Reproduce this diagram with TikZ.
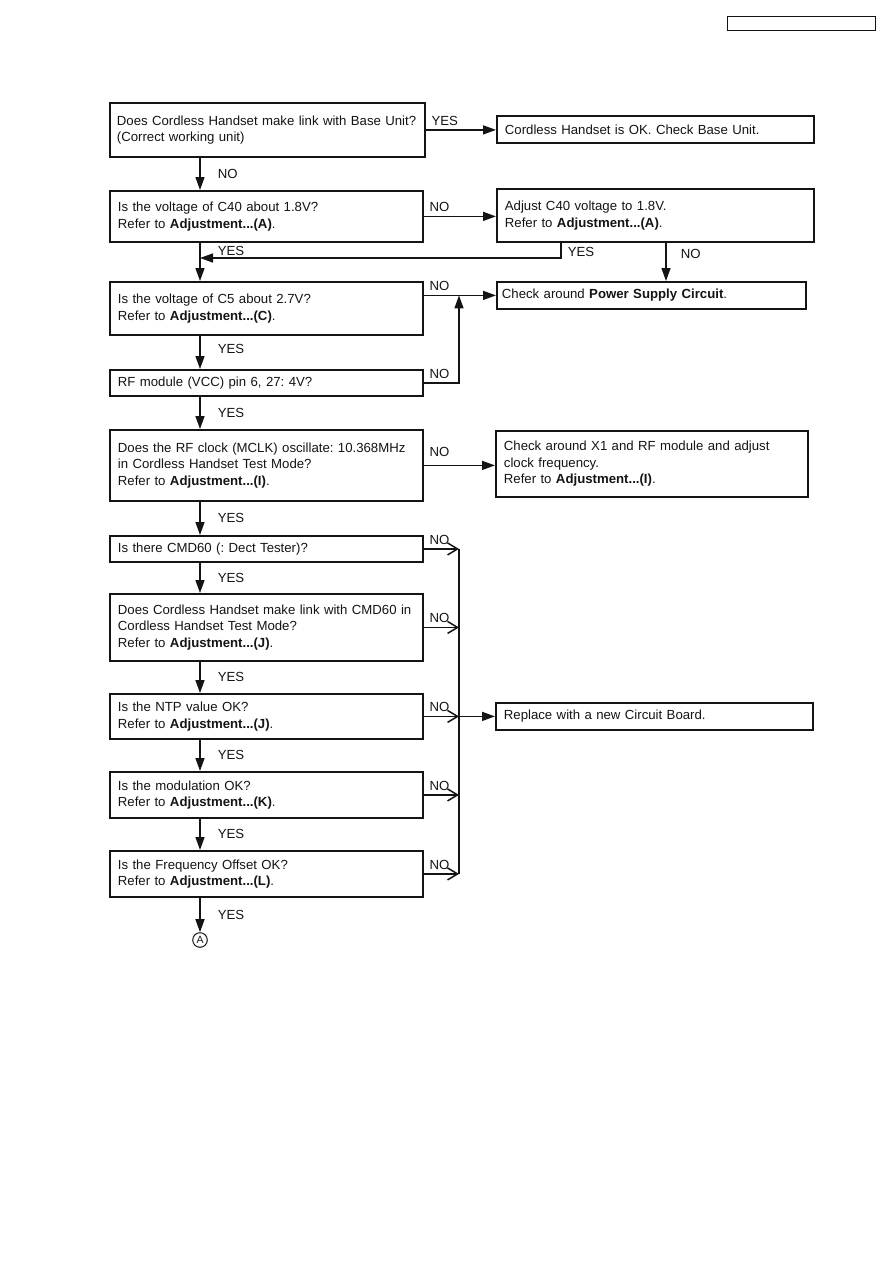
\documentclass[tikz,border=0pt]{standalone}
\usepackage{fontspec}
\setmainfont{Liberation Sans}
\definecolor{inkblack}{RGB}{20,20,20}
\usetikzlibrary{arrows.meta,calc}

\begin{document}
\begin{tikzpicture}[x=1pt, y=-1pt,
    every node/.style={font=\fontsize{13.2pt}{16.5pt}\selectfont\frenchspacing, text=inkblack},
    qbox/.style={draw=inkblack, line width=1.8pt, anchor=north west, align=left, inner xsep=8pt, inner ysep=2pt, minimum width=313pt, text width=297pt},
    abox/.style={draw=inkblack, line width=1.8pt, anchor=north west, align=left, inner xsep=8pt, inner ysep=2pt},
    lab/.style={inner sep=1pt},
    sidelab/.style={lab, anchor=south west, pos=0, xshift=4pt, yshift=3pt},
    arr/.style={draw=inkblack, line width=1.5pt, -{Triangle[length=13pt,width=9pt]}},
    barb/.style={draw=inkblack, line width=1.5pt, -{Straight Barb[length=10pt,width=12pt]}}]
\useasboundingbox (0,0) rectangle (893,1263);

% header box
\node[draw=inkblack, line width=1.2pt, anchor=north west, minimum width=148pt, minimum height=14pt, inner sep=0pt] (docbox) at (727,16) {};

% question column
\node[qbox, inner xsep=7pt, minimum width=315pt, text width=301pt, minimum height=54pt] (qlink) at (109,102) {Does Cordless Handset make link with Base Unit?\\(Correct working unit)};
\node[qbox, minimum height=51pt] (qcforty) at (109,190) {Is the voltage of C40 about 1.8V?\\Refer to \textbf{Adjustment...(A)}.};
\node[qbox, minimum height=53pt] (qcfive) at (109,281) {Is the voltage of C5 about 2.7V?\\Refer to \textbf{Adjustment...(C)}.};
\node[qbox, minimum height=26pt] (qvcc) at (109,369) {RF module (VCC) pin 6, 27: 4V?};
\node[qbox, minimum height=71pt] (qclk) at (109,429) {Does the RF clock (MCLK) oscillate: 10.368MHz\\in Cordless Handset Test Mode?\\Refer to \textbf{Adjustment...(I)}.};
\node[qbox, minimum height=26pt] (qcmd) at (109,535) {Is there CMD60 (: Dect Tester)?};
\node[qbox, minimum height=67pt] (qcmdlink) at (109,593) {Does Cordless Handset make link with CMD60 in\\Cordless Handset Test Mode?\\Refer to \textbf{Adjustment...(J)}.};
\node[qbox, minimum height=45pt] (qntp) at (109,693) {Is the NTP value OK?\\Refer to \textbf{Adjustment...(J)}.};
\node[qbox, minimum height=46pt] (qmod) at (109,771) {Is the modulation OK?\\Refer to \textbf{Adjustment...(K)}.};
\node[qbox, minimum height=46pt] (qfreq) at (109,850) {Is the Frequency Offset OK?\\Refer to \textbf{Adjustment...(L)}.};
\node[circle, draw=inkblack, line width=1pt, inner sep=1.6pt, font=\fontsize{10.5pt}{12pt}\selectfont] (conna) at (200,940) {A};

% action column
\node[abox, minimum width=317pt, text width=301pt, minimum height=27pt] (okbase) at (496,115) {Cordless Handset is OK. Check Base Unit.};
\node[abox, minimum width=317pt, text width=301pt, minimum height=53pt] (adjc) at (496,188) {Adjust C40 voltage to 1.8V.\\Refer to \textbf{Adjustment...(A)}.};
\node[abox, inner xsep=5pt, minimum width=309pt, text width=299pt, minimum height=27pt] (psu) at (496,281) {Check around \textbf{Power Supply Circuit}.};
\node[abox, minimum width=312pt, text width=296pt, minimum height=66pt] (xone) at (495,430) {Check around X1 and RF module and adjust\\clock frequency.\\Refer to \textbf{Adjustment...(I)}.};
\node[abox, minimum width=317pt, text width=301pt, minimum height=27pt] (replace) at (495,702) {Replace with a new Circuit Board.};

% helper coordinates
\coordinate (downx) at (200,0);
\coordinate (yesx) at (561,0);
\coordinate (nox) at (666,0);
\coordinate (bus) at (459,0);
\coordinate (jc) at (200,258);

% main flow
\foreach \a/\b/\lbl/\p in {qlink/qcforty/NO/0.5, qcforty/qcfive/YES/0.22, qcfive/qvcc/YES/0.4, qvcc/qclk/YES/0.5, qclk/qcmd/YES/0.5, qcmd/qcmdlink/YES/0.5, qcmdlink/qntp/YES/0.5, qntp/qmod/YES/0.5, qmod/qfreq/YES/0.5}
  \draw[arr] (\a.south -| downx) -- node[lab, anchor=west, pos=\p, xshift=16pt]{\lbl} (\b.north -| downx);
\draw[arr] (qfreq.south -| downx) -- node[lab, anchor=west, xshift=16pt]{YES} (conna.north);

% side branches
\draw[arr] (qlink.east) -- node[sidelab]{YES} (qlink.east -| okbase.west);
\draw[arr] (qcforty.east) -- node[sidelab]{NO} (qcforty.east -| adjc.west);
\draw[arr] (psu.west -| qcfive.east) -- node[sidelab]{NO} (psu.west);
\draw[arr] (qvcc.east) -| node[sidelab]{NO} (psu.west -| bus);
\draw[arr] (qclk.east) -- node[sidelab, yshift=4pt]{NO} (qclk.east -| xone.west);
\draw[arr] (adjc.south -| yesx) |- node[lab, anchor=west, pos=0.3, xshift=5pt]{YES} (jc);
\draw[arr] (adjc.south -| nox) -- node[lab, anchor=west, pos=0.3, xshift=13pt]{NO} (psu.north -| nox);

% tester checks
\foreach \q in {qcmd,qcmdlink,qntp,qmod,qfreq}
  \draw[barb] (\q.east) -- node[sidelab]{NO} (\q.east -| bus);
\draw[draw=inkblack, line width=1.5pt] (qcmd.east -| bus) -- (qfreq.east -| bus);
\draw[arr] (qntp.east -| bus) -- (replace.west);

\end{tikzpicture}
\end{document}
